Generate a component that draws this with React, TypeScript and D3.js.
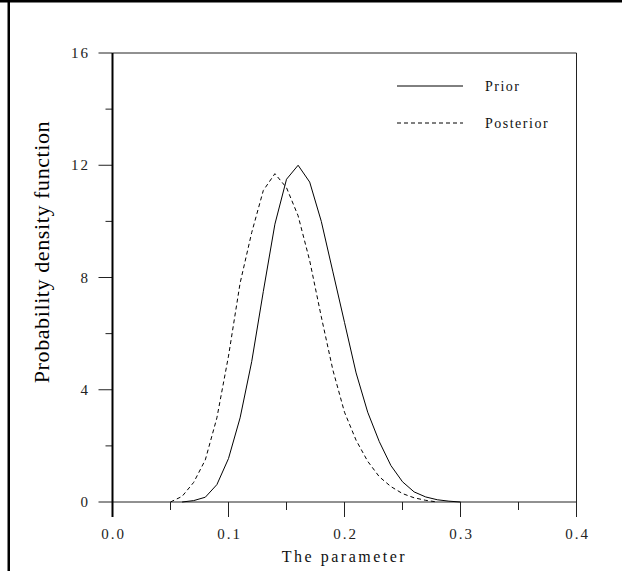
import React, { useRef, useEffect } from "react";
import * as d3 from "d3";

// parameter grid (0.01 step) and density values
const priorX = [0.06, 0.07, 0.08, 0.09, 0.1, 0.11, 0.12, 0.13, 0.14, 0.15, 0.16, 0.17, 0.18, 0.19, 0.2, 0.21, 0.22, 0.23, 0.24, 0.25, 0.26, 0.27, 0.28, 0.29, 0.3];
const priorY = [0, 0.05, 0.17, 0.62, 1.55, 3.0, 5.0, 7.5, 9.9, 11.5, 12.0, 11.4, 10.0, 8.2, 6.4, 4.6, 3.2, 2.15, 1.3, 0.72, 0.36, 0.18, 0.08, 0.03, 0];
const postX = [0.05, 0.06, 0.07, 0.08, 0.09, 0.1, 0.11, 0.12, 0.13, 0.14, 0.15, 0.16, 0.17, 0.18, 0.19, 0.2, 0.21, 0.22, 0.23, 0.24, 0.25, 0.26, 0.27, 0.28];
const postY = [0, 0.2, 0.7, 1.5, 3.0, 5.2, 7.8, 9.6, 11.1, 11.7, 11.2, 10.2, 8.6, 6.6, 4.7, 3.2, 2.2, 1.45, 0.9, 0.55, 0.3, 0.15, 0.06, 0];

const xMajor = [0, 0.1, 0.2, 0.3, 0.4];
const xMinor = [0.05, 0.15, 0.25, 0.35];
const yMajor = [0, 4, 8, 12, 16];
const yMinor = [2, 6, 10, 14];

const legendNames = ["Prior", "Posterior"];

export default function App() {
  const ref = useRef<SVGSVGElement>(null);

  useEffect(() => {
    const svg = d3.select(ref.current);
    svg.selectAll("*").remove();

    const x = d3.scaleLinear().domain([0, 0.4]).range([112.5, 576.5]);
    const y = d3.scaleLinear().domain([0, 16]).range([502, 53]);

    // outer frame bits
    svg.append("rect").attr("x", 0).attr("y", 0).attr("width", 622).attr("height", 2.5).attr("fill", "#000");
    svg.append("rect").attr("x", 7.5).attr("y", 0).attr("width", 2.5).attr("height", 571).attr("fill", "#000");

    // top and right borders
    svg.append("line").attr("x1", x(0)).attr("x2", x(0.4)).attr("y1", y(16)).attr("y2", y(16)).attr("stroke", "#222");
    svg.append("line").attr("x1", x(0.4)).attr("x2", x(0.4)).attr("y1", y(16)).attr("y2", y(0)).attr("stroke", "#222");

    // x axis
    svg.append("line").attr("x1", x(0)).attr("x2", x(0.4)).attr("y1", y(0)).attr("y2", y(0)).attr("stroke", "#222");
    xMajor.forEach((v) => {
      svg.append("line").attr("x1", x(v)).attr("x2", x(v)).attr("y1", y(0)).attr("y2", y(0) + 15).attr("stroke", "#222");
      svg.append("text")
        .attr("x", x(v) + 1).attr("y", y(0) + 37)
        .attr("text-anchor", "middle")
        .attr("font-family", "Liberation Serif").attr("font-size", 15).attr("letter-spacing", 2).attr("fill", "#222")
        .text(d3.format(".1f")(v));
    });
    xMinor.forEach((v) => {
      svg.append("line").attr("x1", x(v)).attr("x2", x(v)).attr("y1", y(0)).attr("y2", y(0) + 8).attr("stroke", "#222");
    });

    // y axis
    yMajor.forEach((v) => {
      svg.append("line").attr("x1", x(0) - 14).attr("x2", x(0)).attr("y1", y(v)).attr("y2", y(v)).attr("stroke", "#222");
      svg.append("text")
        .attr("x", 90).attr("y", y(v) + 5)
        .attr("text-anchor", "end")
        .attr("font-family", "Liberation Serif").attr("font-size", 15).attr("letter-spacing", 2).attr("fill", "#222")
        .text(v);
    });
    yMinor.forEach((v) => {
      svg.append("line").attr("x1", x(0) - 7).attr("x2", x(0)).attr("y1", y(v)).attr("y2", y(v)).attr("stroke", "#222");
    });
    svg.append("line").attr("x1", x(0)).attr("x2", x(0)).attr("y1", y(16)).attr("y2", y(0) + 15).attr("stroke", "#000").attr("stroke-width", 2);

    // curves
    const line = d3.line<[number, number]>().x((d) => x(d[0])).y((d) => y(d[1]));
    svg.append("path")
      .datum(priorX.map((v, i) => [v, priorY[i]] as [number, number]))
      .attr("d", line).attr("fill", "none").attr("stroke", "#000").attr("stroke-width", 1);
    svg.append("path")
      .datum(postX.map((v, i) => [v, postY[i]] as [number, number]))
      .attr("d", line).attr("fill", "none").attr("stroke", "#000").attr("stroke-width", 1)
      .attr("stroke-dasharray", "4,3");

    // legend
    legendNames.forEach((name, i) => {
      const ly = 86 + i * 37;
      svg.append("line").attr("x1", 397).attr("x2", 463).attr("y1", ly).attr("y2", ly)
        .attr("stroke", "#000").attr("stroke-dasharray", i === 1 ? "4,3" : null);
      svg.append("text").attr("x", 485).attr("y", ly + 5)
        .attr("font-family", "Liberation Serif").attr("font-size", 14).attr("letter-spacing", 1.5)
        .attr("fill", "#111").text(name);
    });

    // axis titles
    svg.append("text")
      .attr("x", x(0.2)).attr("y", 562)
      .attr("text-anchor", "middle")
      .attr("font-family", "Liberation Serif").attr("font-size", 16).attr("letter-spacing", 2.5)
      .attr("fill", "#111").text("The parameter");
    svg.append("text")
      .attr("transform", `translate(49, ${252}) rotate(-90)`)
      .attr("text-anchor", "middle")
      .attr("font-family", "Liberation Serif").attr("font-size", 22).attr("letter-spacing", 0.6)
      .attr("fill", "#000").text("Probability density function");
  }, []);

  return (
    <svg ref={ref} width={622} height={571} style={{ position: "absolute", left: 0, top: 0, background: "#fff" }} />
  );
}
